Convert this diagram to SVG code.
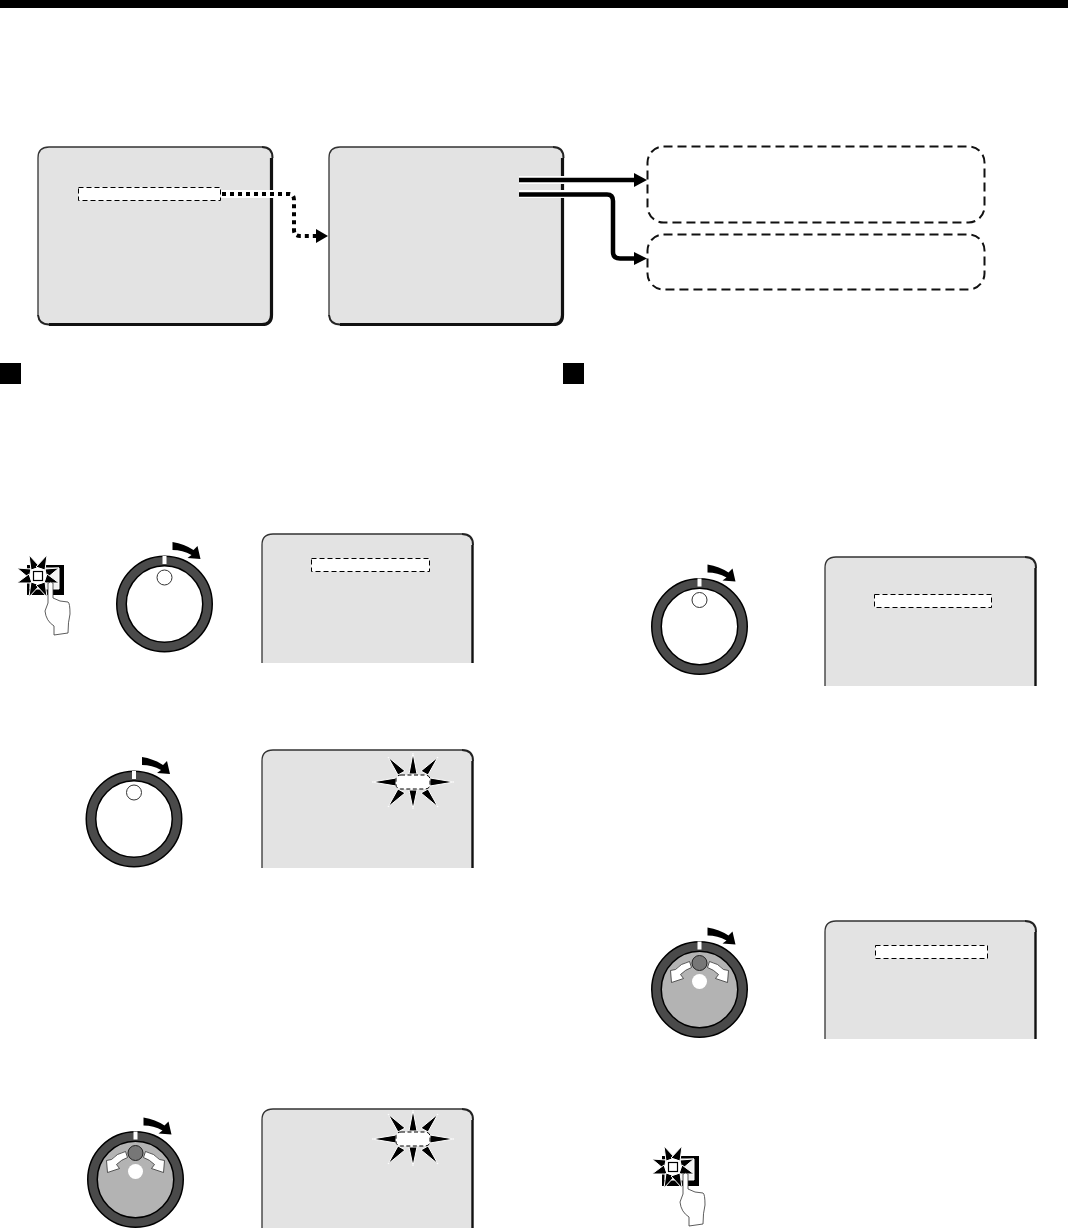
<svg xmlns="http://www.w3.org/2000/svg" width="1068" height="1228" viewBox="0 0 1068 1228">
<style>
.scr{fill:#e3e3e3}
.edge{fill:none;stroke:#333;stroke-width:1.3}
.arc{fill:none;stroke:#222;stroke-width:2}
.thick{fill:none;stroke:#111;stroke-width:3.2}
.dash{fill:#fff;stroke:#000;stroke-width:1;stroke-dasharray:5 3}
.spike{fill:#000;stroke:#fff;stroke-width:1}
.box{fill:#fff;stroke:#111;stroke-width:2;stroke-dasharray:9 5}
</style>
<defs>
<path id="dial-top" d="M8 -62 Q20 -60 29 -54 L33 -58 L36 -45 L23 -46 L27 -49 Q18 -54 8 -54Z" fill="#000"/>
<g id="dial">
<circle r="43" fill="#fff" stroke="#000" stroke-width="11"/>
<circle r="43" fill="none" stroke="#4a4a4a" stroke-width="8"/>
<rect x="-2" y="-48" width="4" height="8" fill="#fff"/>
<circle cy="-26.500" r="7.500" fill="#fff" stroke="#333" stroke-width="1"/>
<use href="#dial-top"/>
</g>
<g id="dial-on">
<circle r="43" fill="#b3b3b3" stroke="#000" stroke-width="11"/>
<circle r="43" fill="none" stroke="#4a4a4a" stroke-width="8"/>
<rect x="-2" y="-48" width="4" height="8" fill="#fff"/>
<circle cy="-26.500" r="7.500" fill="#777" stroke="#222" stroke-width="1"/>
<circle cy="-8" r="7.500" fill="#fff"/>
<path d="M-10 -28 Q-19 -26 -24 -20 L-29 -19 L-28 -7 L-16 -11 L-19 -15 Q-14 -20 -8 -22Z" fill="#fff" stroke="#333" stroke-width="0.8"/>
<path d="M10 -28 Q19 -26 24 -20 L29 -19 L28 -7 L16 -11 L19 -15 Q14 -20 8 -22Z" fill="#fff" stroke="#333" stroke-width="0.8"/>
<use href="#dial-top"/>
</g>
<g id="screen-sides">
<path d="M0 11 Q0 0 11 0 H200" class="edge"/>
<path d="M200 0 Q211 0 211 11" class="arc"/>
</g>
<g id="small-screen-129">
<path d="M0 129 V11 Q0 0 11 0 H200 Q211 0 211 11 V129Z" class="scr"/>
<use href="#screen-sides"/>
<path d="M0 129 V11" class="edge"/>
<path d="M210.500 11 V129" class="thick" style="stroke-width:2.400"/>
</g>
<g id="small-screen-118">
<path d="M0 118 V11 Q0 0 11 0 H200 Q211 0 211 11 V118Z" class="scr"/>
<use href="#screen-sides"/>
<path d="M0 118 V11" class="edge"/>
<path d="M210.500 11 V118" class="thick" style="stroke-width:2.400"/>
</g>
<g id="spark">
<path class="spike" d="M-17 -4 L-41 0 L-17 4Z"/>
<path class="spike" d="M17 -4 L41 0 L17 4Z"/>
<path class="spike" d="M-4 -8 L0 -29 L4 -8Z"/>
<path class="spike" d="M-4 8 L0 27 L4 8Z"/>
<path class="spike" d="M-15 -7 L-25 -25 L-8 -11Z"/>
<path class="spike" d="M15 -7 L25 -25 L8 -11Z"/>
<path class="spike" d="M-15 7 L-25 25 L-8 11Z"/>
<path class="spike" d="M15 7 L25 25 L8 11Z"/>
<rect x="-17" y="-7" width="34" height="14" rx="5" ry="4" fill="#fff" stroke="#000" stroke-dasharray="4 2.500"/>
</g>
<g id="button">
<path d="M-11 -11 H26 V19 H-11Z" fill="#000"/>
<path d="M-8 -8 H21 V13 H-8Z" fill="#f2f2f2" stroke="#fff"/>
<path class="spike" d="M-7 -7 L-21 -8 L-9 2Z"/>
<path class="spike" d="M-9 -2 L-21 7 L-6 7Z"/>
<path class="spike" d="M7 -7 L21 -8 L9 2Z"/>
<path class="spike" d="M9 -2 L21 7 L6 7Z"/>
<path class="spike" d="M-7 -6 L-9 -21 L2 -9Z"/>
<path class="spike" d="M7 -6 L9 -21 L-2 -9Z"/>
<path class="spike" d="M-7 6 L-9 21 L2 9Z"/>
<path class="spike" d="M7 6 L9 21 L-2 9Z"/>
<circle r="8" fill="#fff"/>
<rect x="-4.500" y="-4.500" width="9" height="9" fill="#fff" stroke="#000" stroke-width="1.200"/>
<path d="M10 7 V27 L7 35 Q8 45 16 50 L16 59 L30 57 Q30 46 32 38 Q32 27 30 26 L22 25 L15 22 V7 Q13 5 10 7Z" fill="#fff" stroke="#333" stroke-width="0.800"/>
</g>
</defs>

<rect x="0" y="0" width="1068" height="8" fill="#000"/>

<g id="screen-1">
<path d="M38 326 V158 Q38 147 49 147 H262 Q273 147 273 158 V315 Q273 326 262 326 H49 Q38 326 38 315Z" class="scr"/>
<path d="M38 315 V158 Q38 147 49 147 H262" class="edge"/>
<path d="M262 147 Q272.500 147 272.500 158" class="arc"/>
<path d="M271.500 158 V315 Q271.500 324.500 262 324.500 H49" class="thick"/>
<path d="M49 324.500 Q39 324.500 38 315" class="arc"/>
<rect x="78.500" y="187.500" width="142" height="13" class="dash"/>
</g>
<g id="screen-2">
<path d="M329 326 V158 Q329 147 340 147 H553 Q564 147 564 158 V315 Q564 326 553 326 H340 Q329 326 329 315Z" class="scr"/>
<path d="M329 315 V158 Q329 147 340 147 H553" class="edge"/>
<path d="M553 147 Q563.500 147 563.500 158" class="arc"/>
<path d="M562.500 158 V315 Q562.500 324.500 553 324.500 H340" class="thick"/>
<path d="M340 324.500 Q330 324.500 329 315" class="arc"/>
</g>
<g id="box-1"><rect x="647.500" y="146.500" width="337" height="76" rx="16" class="box"/></g>
<g id="box-2"><rect x="647.500" y="234.500" width="337" height="55" rx="16" class="box"/></g>

<g id="connectors">
<rect x="221" y="190" width="53" height="8" fill="#fff"/>
<path d="M222 194 H289 Q294 194 294 200 V230 Q294 236 300 236 H316" fill="none" stroke="#000" stroke-width="4" stroke-dasharray="4 4"/>
<path d="M316 229 L328 236 L316 243Z" fill="#000"/>
<rect x="519" y="176" width="46" height="8" fill="#fff"/>
<rect x="519" y="190" width="46" height="8" fill="#fff"/>
<path d="M519 180 H636" stroke="#000" stroke-width="4.500" fill="none"/>
<path d="M634 173 L647 180 L634 187Z" fill="#000"/>
<path d="M519 194.500 H607 Q613 194.500 613 201 V252 Q613 258.500 620 258.500 H636" stroke="#000" stroke-width="4.500" fill="none"/>
<path d="M634 252 L647 258.500 L634 265Z" fill="#000"/>
</g>

<g id="bullet-1"><rect x="0" y="363" width="21" height="21" fill="#000"/></g>
<g id="bullet-2"><rect x="563" y="363" width="21" height="21" fill="#000"/></g>

<g id="button-1"><use href="#button" x="38" y="576"/></g>
<g id="dial-1"><use href="#dial" x="164.500" y="604"/></g>
<g id="panel-1"><use href="#small-screen-129" x="262" y="534"/><rect x="311.500" y="558.500" width="118" height="13" class="dash"/></g>

<g id="dial-2"><use href="#dial" x="134" y="819"/></g>
<g id="panel-2"><use href="#small-screen-118" x="262" y="750"/><use href="#spark" x="413" y="782"/></g>

<g id="dial-3"><use href="#dial-on" x="135.500" y="1179.500"/></g>
<g id="panel-3"><use href="#small-screen-129" x="262" y="1109"/><use href="#spark" x="413" y="1139"/></g>

<g id="dial-4"><use href="#dial" x="699.500" y="626.500"/></g>
<g id="panel-4"><use href="#small-screen-129" x="825" y="557"/><rect x="874.500" y="594.500" width="117" height="13" class="dash"/></g>

<g id="dial-5"><use href="#dial-on" x="699.500" y="989.500"/></g>
<g id="panel-5"><use href="#small-screen-118" x="825" y="921"/><rect x="875.500" y="945.500" width="112" height="13" class="dash"/></g>

<g id="button-2"><use href="#button" x="673" y="1167"/></g>
</svg>
